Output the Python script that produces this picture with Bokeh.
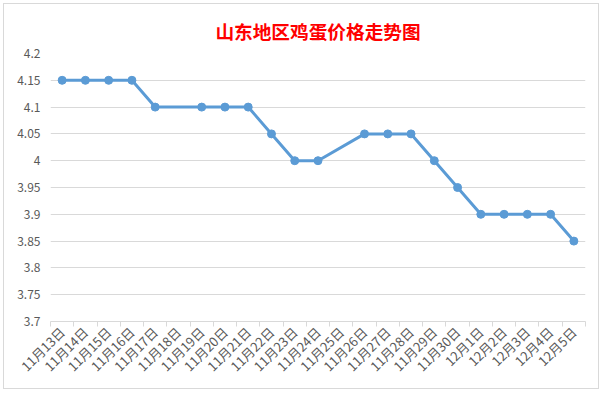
from bokeh.plotting import figure
from bokeh.models import FixedTicker, ColumnDataSource
from bokeh.embed import file_html
from bokeh.resources import INLINE
import math

dates = ["11月13日", "11月14日", "11月15日", "11月16日", "11月17日", "11月18日",
         "11月19日", "11月20日", "11月21日", "11月22日", "11月23日", "11月24日",
         "11月25日", "11月26日", "11月27日", "11月28日", "11月29日", "11月30日",
         "12月1日", "12月2日", "12月3日", "12月4日", "12月5日"]
prices = [4.15, 4.15, 4.15, 4.15, 4.10, None,
          4.10, 4.10, 4.10, 4.05, 4.00, 4.00,
          None, 4.05, 4.05, 4.05, 4.00, 3.95,
          3.90, 3.90, 3.90, 3.90, 3.85]
y_ticks = [3.7, 3.75, 3.8, 3.85, 3.9, 3.95, 4.0, 4.05, 4.1, 4.15, 4.2]
y_tick_labels = ["3.7", "3.75", "3.8", "3.85", "3.9", "3.95", "4", "4.05", "4.1", "4.15", "4.2"]
title_text = "山东地区鸡蛋价格走势图"

xs = [i for i, v in enumerate(prices) if v is not None]
ys = [v for v in prices if v is not None]
src = ColumnDataSource(dict(x=xs, y=ys))

FONT = "Noto Sans CJK SC"
GRID = "#d9d9d9"
LBL = "#595959"
BLUE = "#5B9BD5"

p = figure(width=596, height=386, output_backend="svg", toolbar_location=None,
           x_range=(-0.5, len(dates) - 0.5), y_range=(3.7, 4.2),
           min_border_left=46, min_border_right=15, min_border_top=49, min_border_bottom=69,
           title=title_text)
p.margin = (3, 0, 0, 3)
p.styles = {"border": "1px solid #d9d9d9"}
p.outline_line_color = None

p.title.align = "center"
p.title.text_color = "#FF0000"
p.title.text_font = FONT
p.title.text_font_size = "18.67px"
p.title.text_font_style = "bold"
p.title.offset = 0
p.title.standoff = 20

p.line("x", "y", source=src, line_color=BLUE, line_width=3)
p.scatter("x", "y", source=src, size=8, fill_color=BLUE, line_color=BLUE)

# x axis
xt = FixedTicker(ticks=list(range(len(dates))),
                 minor_ticks=[i - 0.5 for i in range(len(dates) + 1)])
p.xaxis.ticker = xt
p.xaxis.major_label_overrides = {i: d for i, d in enumerate(dates)}
p.xaxis.major_label_orientation = math.pi / 4
p.xaxis.major_tick_line_color = None
p.xaxis.minor_tick_line_color = GRID
p.xaxis.minor_tick_out = 5
p.xaxis.minor_tick_in = 0
p.xaxis.axis_line_color = GRID
p.xaxis.major_label_text_font = FONT
p.xaxis.major_label_text_font_size = "13px"
p.xaxis.major_label_text_color = LBL
p.xaxis.major_label_standoff = 2
p.xgrid.grid_line_color = None

# y axis
p.yaxis.ticker = FixedTicker(ticks=y_ticks)
p.yaxis.major_label_overrides = {t: l for t, l in zip(y_ticks, y_tick_labels)}
p.yaxis.axis_line_color = None
p.yaxis.major_tick_line_color = None
p.yaxis.minor_tick_line_color = None
p.yaxis.major_tick_out = 0
p.yaxis.major_label_standoff = 10
p.yaxis.major_label_text_font = FONT
p.yaxis.major_label_text_font_size = "12px"
p.yaxis.major_label_text_color = LBL
p.ygrid.grid_line_color = GRID
p.ygrid.grid_line_width = 1

open("out.html", "w").write(file_html(p, INLINE))
